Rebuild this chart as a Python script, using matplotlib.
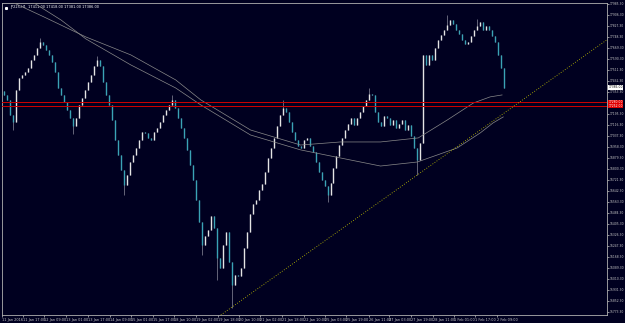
import matplotlib
matplotlib.use("Agg")
import matplotlib.pyplot as plt
import numpy as np

# hourly closes (one value per candle)
closes = [17331, 17295, 17187, 17137, 17367, 17453, 17475, 17496, 17525, 17583,
          17619, 17669, 17712, 17690, 17654, 17619, 17568, 17496, 17381, 17331,
          17281, 17223, 17166, 17108, 17166, 17259, 17309, 17367, 17424, 17475,
          17539, 17583, 17539, 17424, 17331, 17259, 17151, 17007, 16900, 16792,
          16684, 16756, 16849, 16900, 16950, 17007, 17065, 17058, 17022, 17007,
          17065, 17094, 17137, 17187, 17223, 17259, 17295, 17237, 17166, 17094,
          17022, 16936, 16828, 16720, 16576, 16418, 16253, 16317, 16360, 16461,
          16375, 16159, 16087, 16253, 16346, 16130, 15965, 16037, 16030, 16087,
          16231, 16346, 16475, 16547, 16576, 16648, 16691, 16777, 16878, 16950,
          17022, 17108, 17187, 17237, 17209, 17137, 17065, 17007, 16964, 16950,
          17007, 17022, 16964, 16921, 16849, 16777, 16720, 16677, 16612, 16698,
          16806, 16892, 16971, 17022, 17079, 17122, 17166, 17115, 17166, 17209,
          17252, 17295, 17338, 17331, 17209, 17137, 17108, 17180, 17166, 17115,
          17151, 17094, 17122, 17151, 17079, 17115, 17036, 16950, 16864, 16986,
          17619, 17547, 17619, 17583, 17669, 17726, 17762, 17798, 17834, 17870,
          17841, 17798, 17770, 17726, 17698, 17712, 17755, 17798, 17827, 17856,
          17798, 17827, 17798, 17755, 17712, 17619, 17525, 17381]
first_open = 17360

# wick extremes that stick out of the bodies
spike_lows = {3: 17079, 23: 17050, 40: 16612, 66: 16180, 71: 16001, 76: 15800,
              108: 16560, 138: 16756}
spike_highs = {12: 17741, 31: 17610, 56: 17330, 93: 17295, 122: 17381, 148: 17906,
               158: 17880}

# moving averages (bar position, value)
ma_fast_x = [3.3, 13.3, 27.3, 42.3, 57.3, 65.7, 82.3, 99, 112.3, 125.7, 138.3, 148, 156.7, 162.3, 166.3]
ma_fast_y = [17992, 17892, 17748, 17619, 17439, 17295, 17079, 16971, 16993, 16993, 17022, 17151, 17273, 17317, 17331]
ma_slow_x = [10, 19, 27.3, 42.3, 57.3, 65.7, 82.3, 99, 112.3, 125.7, 138, 151.3, 159, 163.3, 166.7]
ma_slow_y = [17992, 17870, 17734, 17547, 17381, 17259, 17043, 16936, 16878, 16820, 16849, 16950, 17058, 17130, 17173]

# trend line anchors and horizontal levels
trend_x = [75.7, 138]
trend_y = [15800, 16756]
levels = [17280, 17252]
last_price = 17386

price_ticks = [17985.30, 17906.30, 17827.30, 17748.30, 17669.30, 17590.30, 17511.30,
               17432.30, 17353.30, 17274.30, 17195.30, 17116.30, 17037.30, 16958.30,
               16879.30, 16800.30, 16721.30, 16642.30, 16563.30, 16484.30, 16405.30,
               16326.30, 16247.30, 16168.30, 16089.30, 16010.30, 15931.30, 15852.30,
               15773.30]
time_pos = [-0.7, 6.3, 13.3, 20.7, 28, 35.3, 42.3, 49.7, 56.7, 64, 71.3, 78.3, 85.3,
            92.7, 100, 107, 114.3, 121.7, 128.7, 136, 143.3, 150.3, 157.3, 164.7]
time_labels = ["11 Jan 2016", "11 Jan 17:00", "12 Jan 09:00", "13 Jan 01:00", "13 Jan 17:00",
               "14 Jan 09:00", "15 Jan 01:00", "15 Jan 17:00", "18 Jan 10:00", "19 Jan 02:00",
               "19 Jan 18:00", "20 Jan 10:00", "21 Jan 02:00", "21 Jan 18:00", "22 Jan 10:00",
               "25 Jan 03:00", "25 Jan 19:00", "26 Jan 11:00", "27 Jan 03:00", "27 Jan 19:00",
               "28 Jan 11:00", "1 Feb 01:00", "1 Feb 17:00", "2 Feb 09:00"]

bg = "#000020"
fg = "#c8c8c8"
up_col = "#e4e4e4"
dn_col = "#3aa3b5"
fs = 2.5
fs_y = 2.2

fig = plt.figure(figsize=(6.25, 3.23), dpi=100, facecolor=bg)
ax = fig.add_axes([2 / 625, 8 / 323, 605 / 625, 312 / 323], facecolor=bg)

closes = np.array(closes, dtype=float)
opens = np.concatenate([[first_open], closes[:-1]])
idx = np.arange(len(closes))
highs = np.maximum(opens, closes)
lows = np.minimum(opens, closes)
for k, v in spike_lows.items():
    lows[k] = min(lows[k], v)
for k, v in spike_highs.items():
    highs[k] = max(highs[k], v)

up = closes >= opens
ax.vlines(idx, lows, highs, color="#8c8c9c", lw=0.5, zorder=2)
ax.vlines(idx[up], opens[up], closes[up], color=up_col, lw=1.0, zorder=3)
ax.vlines(idx[~up], closes[~up], opens[~up], color=dn_col, lw=1.0, zorder=3)

ax.plot(ma_fast_x, ma_fast_y, color="#8a8a8a", lw=0.5, zorder=4)
ax.plot(ma_slow_x, ma_slow_y, color="#8a8a8a", lw=0.5, zorder=4)

for lv in levels:
    ax.axhline(lv, color="#d00000", lw=0.7, zorder=5)

ax.axline((trend_x[0], trend_y[0]), (trend_x[1], trend_y[1]), color="#c8c800",
          lw=0.6, ls=(0, (1, 2)), zorder=5)

ax.set_xlim(-1 / 3, 604 / 3)
ax.set_ylim(15749, 17992)

ax.yaxis.tick_right()
ax.set_yticks(price_ticks)
ax.set_yticklabels(["%.2f" % v for v in price_ticks])
ax.set_xticks(time_pos)
ax.set_xticklabels(time_labels, ha="left")
ax.tick_params(axis="y", colors=fg, labelsize=fs_y, length=1.5, width=0.5, pad=0.6)
ax.tick_params(axis="x", colors=fg, labelsize=fs, length=1.5, width=0.5, pad=1)
for s in ax.spines.values():
    s.set_color("#b0b0b0")
    s.set_linewidth(0.6)

# price boxes on the right axis
for lv in levels:
    ax.annotate("%.2f" % lv, xy=(1, lv), xycoords=("axes fraction", "data"),
                xytext=(1.2, 0), textcoords="offset points", fontsize=fs_y, color="white",
                va="center", ha="left",
                bbox=dict(boxstyle="square,pad=0.1", fc="#e00000", ec="none"))
ax.annotate("%.2f" % last_price, xy=(1, last_price), xycoords=("axes fraction", "data"),
            xytext=(1.2, 0), textcoords="offset points", fontsize=fs_y, color="black",
            va="center", ha="left",
            bbox=dict(boxstyle="square,pad=0.1", fc="white", ec="none"))

ax.text(0.014, 0.992, "JP225,H1  17411.00 17418.00 17381.00 17386.00", transform=ax.transAxes,
        fontsize=fs, color="white", va="top", ha="left")
ax.plot([0.007], [0.985], marker="s", ms=1.2, color="white", transform=ax.transAxes)

fig.savefig("out.png", dpi=100, facecolor=bg)
